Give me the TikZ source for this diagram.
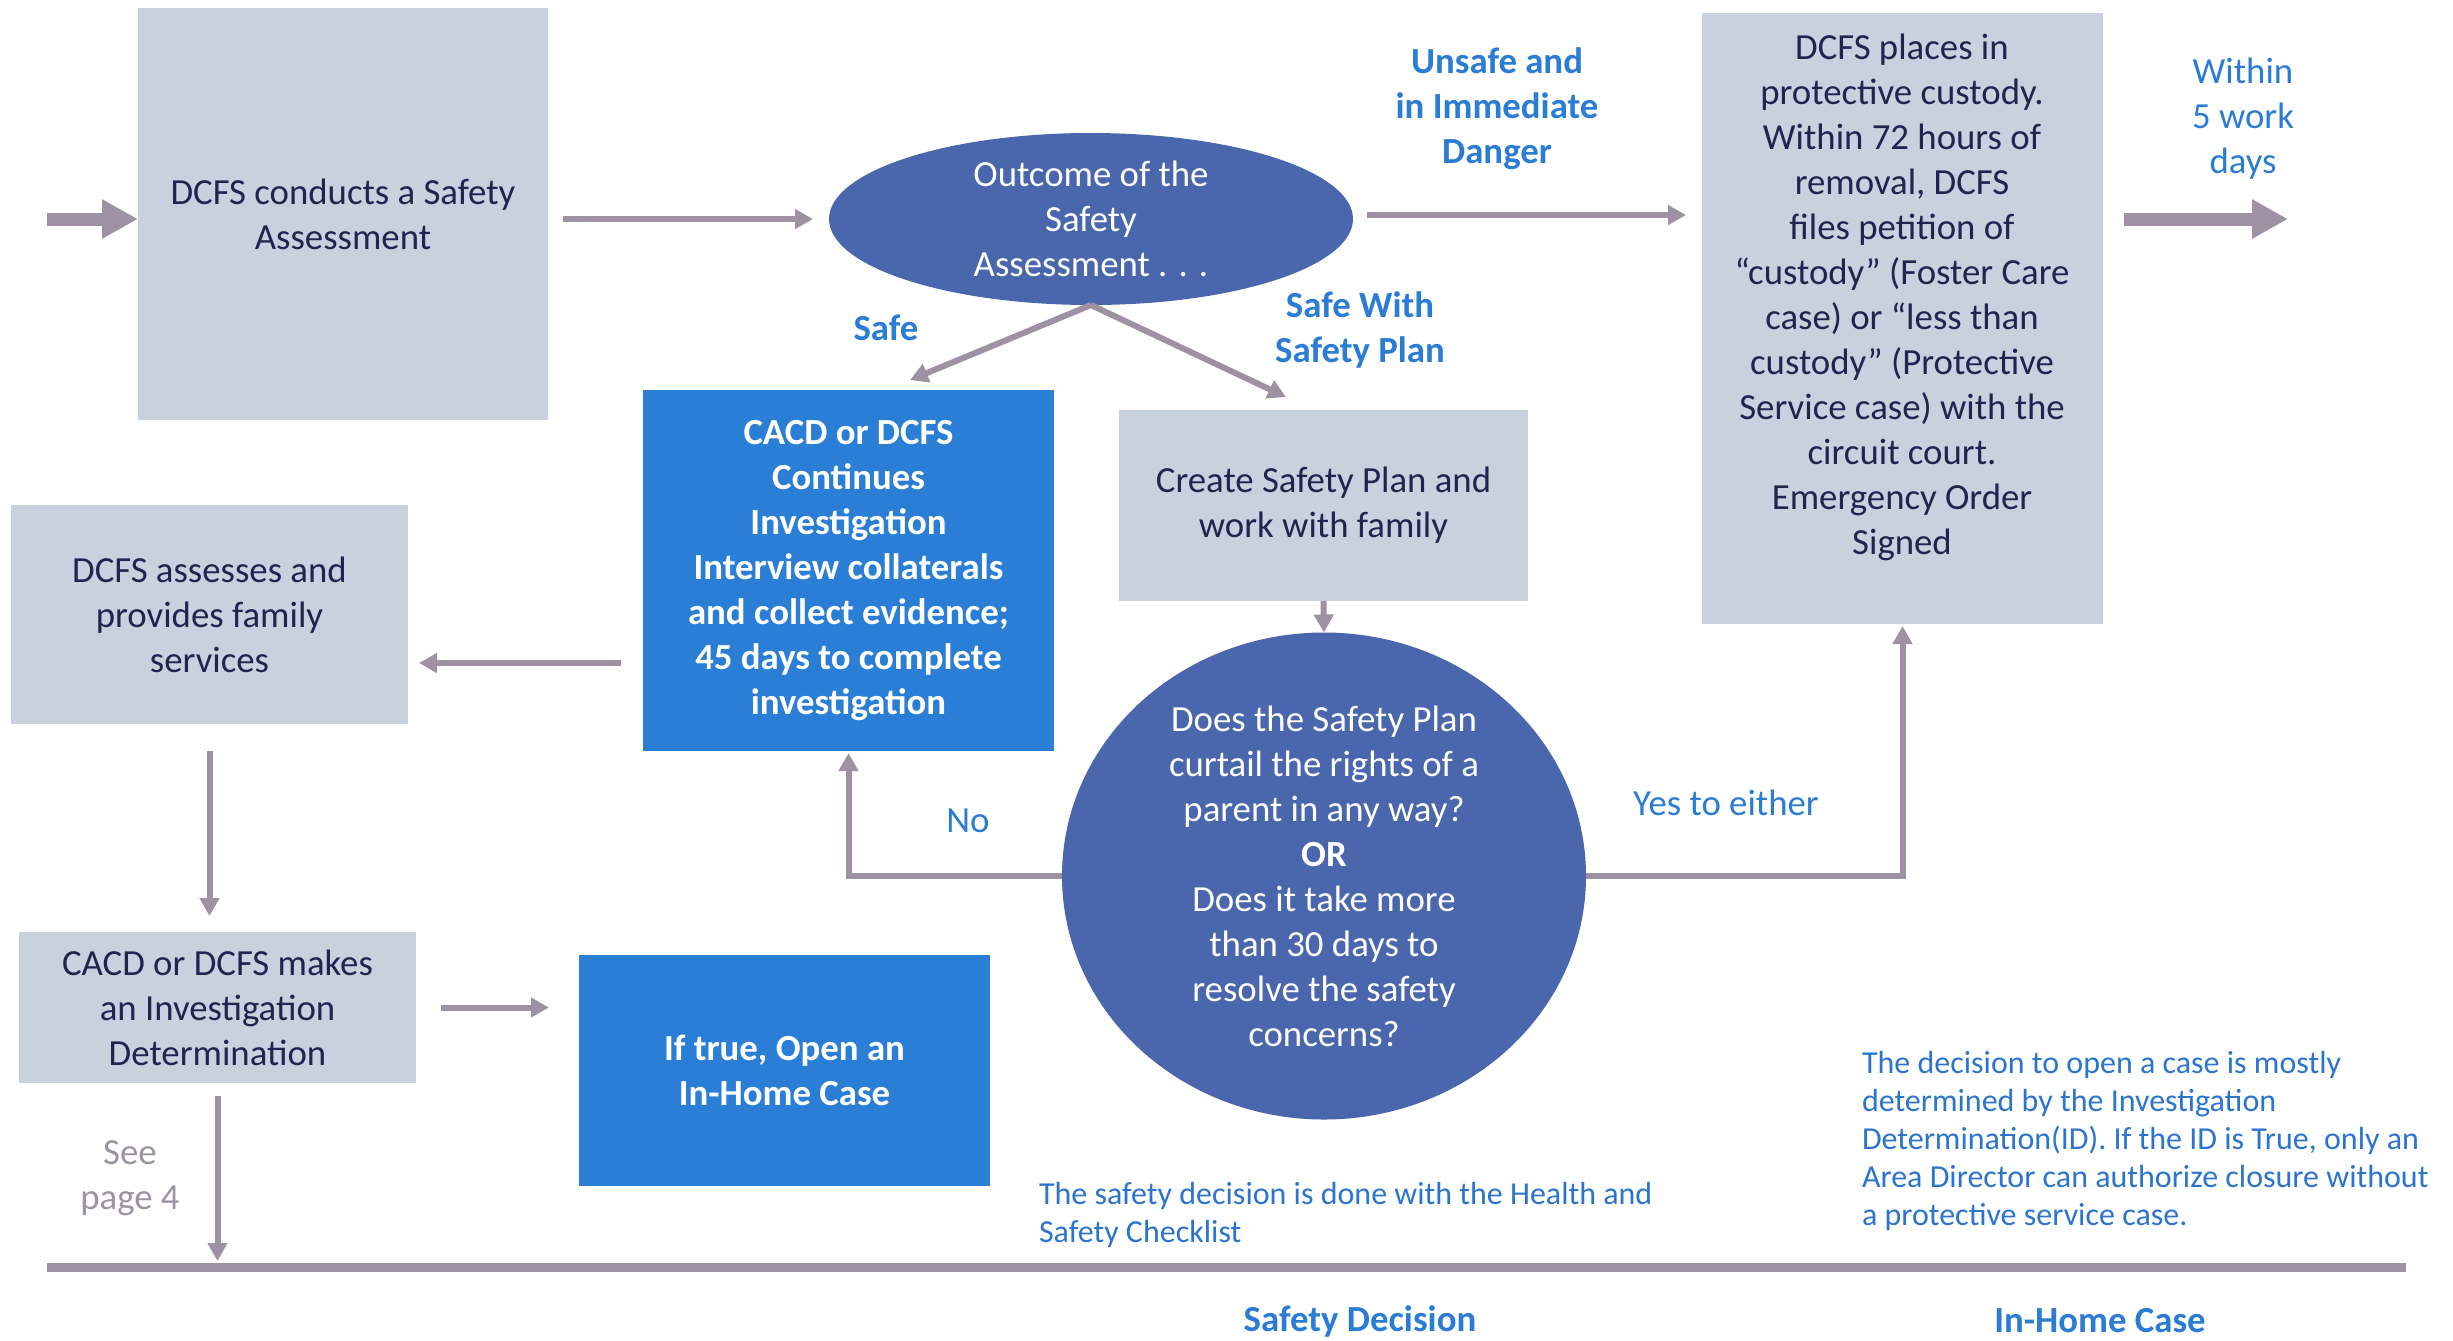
\documentclass[tikz,border=0pt]{standalone}
\usepackage{fontspec}
\setmainfont{Carlito}
\usetikzlibrary{arrows.meta,shapes.geometric,calc}
\definecolor{grayC}{HTML}{CAD1DE}
\definecolor{boxtext}{HTML}{232350}
\definecolor{blueBox}{HTML}{2A7ED6}
\definecolor{ellC}{HTML}{4A67AD}
\definecolor{arrowC}{HTML}{9E91A2}
\definecolor{labelC}{HTML}{2A7CD5}
\definecolor{noteC}{HTML}{2B74CF}
\definecolor{seeC}{HTML}{9C93A2}
\begin{document}
\begin{tikzpicture}[x=0.5pt,y=-0.5pt,
  every node/.style={inner sep=0pt,outer sep=0pt},
  bigtxt/.style={font=\fontsize{18.4}{22.5}\selectfont, align=center},
  boldtxt/.style={font=\fontsize{18.4}{22.5}\selectfont\bfseries, align=center},
  smalltxt/.style={font=\fontsize{16}{19}\selectfont, align=left, text=noteC},
  graybox/.style={fill=grayC, text=boxtext, bigtxt},
  bluebox/.style={fill=blueBox, text=white, boldtxt},
  ellnode/.style={ellipse, fill=ellC, text=white, bigtxt},
  lbl/.style={bigtxt, text=labelC},
  blbl/.style={boldtxt, text=labelC},
  thinarrow/.style={draw=arrowC, line width=3pt, -{Triangle[length=9pt,width=9.5pt]}},
  fatarrow/.style={draw=arrowC, line width=6.5pt, -{Triangle[length=18pt,width=18.5pt]}},
  plainline/.style={draw=arrowC, line width=4.5pt}
]
\useasboundingbox (0,0) rectangle (2453,1340);

% nodes
\node[graybox, minimum width=205pt, minimum height=206pt] (b1) at (343,214) {DCFS conducts a Safety\\Assessment};
\node[ellnode, minimum width=262pt, minimum height=86pt] (ell) at (1091,219) {Outcome of the\\Safety\\Assessment . . .};
\node[graybox, minimum width=200.5pt, minimum height=305.5pt] (b2) at (1902.5,318.5) {};
\node[bigtxt, text=boxtext] (b2t) at (1902,297) {DCFS places in\\protective custody.\\Within 72 hours of\\removal, DCFS\\files petition of\\“custody” (Foster Care\\case) or “less than\\custody” (Protective\\Service case) with the\\circuit court.\\Emergency Order\\Signed};
\node[bluebox, minimum width=205.5pt, minimum height=180.5pt] (blue1) at (848.5,570.5) {CACD or DCFS\\Continues\\Investigation\\Interview collaterals\\and collect evidence;\\45 days to complete\\investigation};
\node[graybox, minimum width=204.5pt, minimum height=95.5pt] (sp) at (1323.5,505.5) {Create Safety Plan and\\work with family};
\node[ellnode, minimum width=262pt, minimum height=243.5pt] (circ) at (1324,876) {Does the Safety Plan\\curtail the rights of a\\parent in any way?\\\textbf{OR}\\Does it take more\\than 30 days to\\resolve the safety\\concerns?};
\node[graybox, minimum width=198.5pt, minimum height=109.5pt] (b3) at (209.5,614.5) {DCFS assesses and\\provides family\\services};
\node[graybox, minimum width=198.5pt, minimum height=75.5pt] (b4) at (217.5,1007.5) {CACD or DCFS makes\\an Investigation\\Determination};
\node[bluebox, minimum width=205.5pt, minimum height=115.5pt] (blue2) at (784.5,1070.5) {If true, Open an\\In-Home Case};

% coordinates
\coordinate (in0) at (47,219);
\coordinate (out1) at (2288,219);
\coordinate (safeEnd) at (910,380);
\coordinate (planEnd) at (1286,397);
\coordinate (bl) at (47,1267);
\coordinate (br) at (2406,1267);

% connectors
\draw[fatarrow] (in0) -- (in0 -| b1.west);
\draw[thinarrow, shorten <=7.5pt, shorten >=8pt] (b1.east |- ell.west) -- (ell.west);
\draw[thinarrow, shorten <=7pt, shorten >=8pt] ([yshift=2pt]ell.east) -- ([yshift=2pt]ell.east -| b2.west);
\draw[fatarrow, shorten <=10.5pt] (b2.east |- out1) -- (out1);
\draw[thinarrow] (ell.south) -- (safeEnd);
\draw[thinarrow] (ell.south) -- (planEnd);
\draw[thinarrow] (sp.south) -- (circ.north);
\draw[thinarrow, shorten >=1pt] (circ.west) -| (blue1.south);
\draw[thinarrow, shorten >=1pt] (circ.east) -| (b2.south);
\draw[thinarrow, shorten <=11pt, shorten >=5.5pt] ([yshift=-46.25pt]blue1.west) -- ([yshift=-46.25pt]blue1.west -| b3.east);
\draw[thinarrow, shorten <=13.5pt, shorten >=8pt] (b3.south) -- (b3.south |- b4.north);
\draw[thinarrow, shorten <=12.5pt, shorten >=15pt] (b4.east) -- (b4.east -| blue2.west);
\draw[thinarrow, shorten <=6.5pt, shorten >=3pt] (b4.south) -- (b4.south |- bl);
\draw[plainline] (bl) -- (br);

% labels
\node[blbl] (unsafe) at (1497,109) {Unsafe and\\in Immediate\\Danger};
\node[lbl] (within) at (2243,119) {Within\\5 work\\days};
\node[blbl] (safe) at (886,328) {Safe};
\node[blbl] (safewith) at (1360,330) {Safe With\\Safety Plan};
\node[lbl] (no) at (968,821) {No};
\node[lbl] (yes) at (1726,803) {Yes to either};
\node[bigtxt, text=seeC] (see) at (130,1178) {See\\page 4};
\node[smalltxt, anchor=west] (note1) at (1039,1214.5) {The safety decision is done with the Health and\\Safety Checklist};
\node[smalltxt, anchor=west] (note2) at (1862,1140.5) {The decision to open a case is mostly\\determined by the Investigation\\Determination(ID). If the ID is True, only an\\Area Director can authorize closure without\\a protective service case.};
\node[blbl] (sd) at (1360,1321) {Safety Decision};
\node[blbl] (ihc) at (2100,1321) {In-Home Case};
\end{tikzpicture}
\end{document}
